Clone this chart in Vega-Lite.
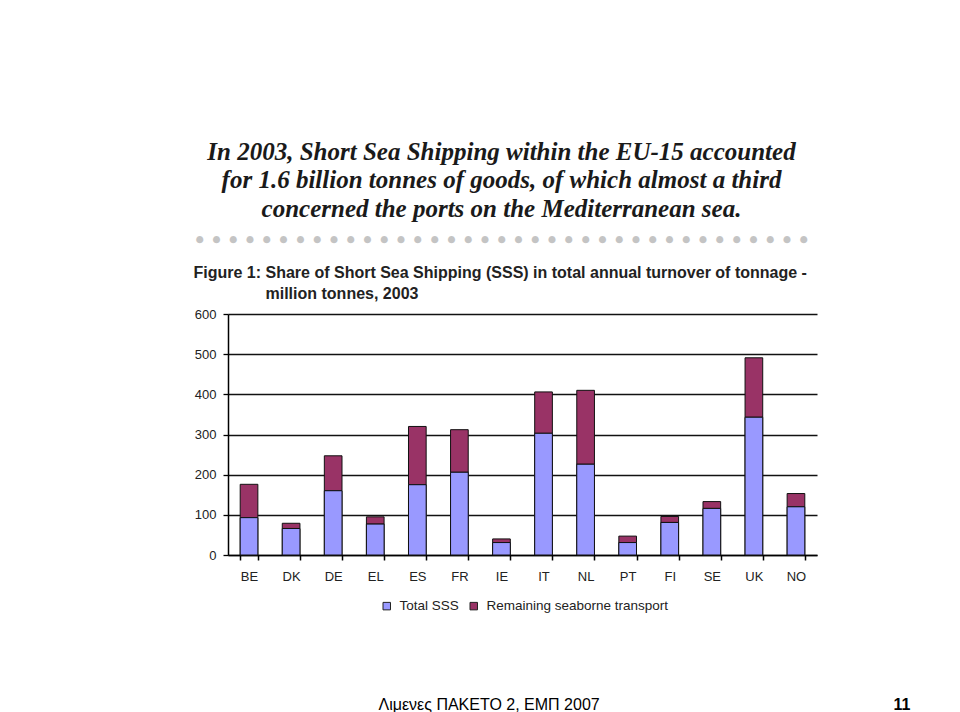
{
  "$schema": "https://vega.github.io/schema/vega-lite/v6.json",
  "width": 589,
  "height": 241,
  "autosize": {"type": "none"},
  "padding": {"left": 228, "top": 314, "right": 143, "bottom": 157},
  "background": "#ffffff",
  "title": {
    "text": ["In 2003, Short Sea Shipping within the EU-15 accounted", "for 1.6 billion tonnes of goods, of which almost a third", "concerned the ports on the Mediterranean sea."],
    "subtitle": "●\u00a0\u00a0\u00a0●\u00a0\u00a0\u00a0●\u00a0\u00a0\u00a0●\u00a0\u00a0\u00a0●\u00a0\u00a0\u00a0●\u00a0\u00a0\u00a0●\u00a0\u00a0\u00a0●\u00a0\u00a0\u00a0●\u00a0\u00a0\u00a0●\u00a0\u00a0\u00a0●\u00a0\u00a0\u00a0●\u00a0\u00a0\u00a0●\u00a0\u00a0\u00a0●\u00a0\u00a0\u00a0●\u00a0\u00a0\u00a0●\u00a0\u00a0\u00a0●\u00a0\u00a0\u00a0●\u00a0\u00a0\u00a0●\u00a0\u00a0\u00a0●\u00a0\u00a0\u00a0●\u00a0\u00a0\u00a0●\u00a0\u00a0\u00a0●\u00a0\u00a0\u00a0●\u00a0\u00a0\u00a0●\u00a0\u00a0\u00a0●\u00a0\u00a0\u00a0●\u00a0\u00a0\u00a0●\u00a0\u00a0\u00a0●\u00a0\u00a0\u00a0●\u00a0\u00a0\u00a0●\u00a0\u00a0\u00a0●\u00a0\u00a0\u00a0●\u00a0\u00a0\u00a0●\u00a0\u00a0\u00a0●\u00a0\u00a0\u00a0●\u00a0\u00a0\u00a0●",
    "anchor": "middle",
    "frame": "group",
    "dx": -21,
    "offset": 20,
    "font": "Liberation Serif",
    "fontStyle": "italic",
    "fontWeight": "bold",
    "fontSize": 25,
    "lineHeight": 28.5,
    "color": "#1a1a1a",
    "subtitleFont": "DejaVu Sans",
    "subtitleFontSize": 9.2,
    "subtitleColor": "#c4c4c4",
    "subtitlePadding": 13
  },
  "data": {
    "values": [
      {"country": "BE", "series": "Total SSS", "value": 93},
      {"country": "BE", "series": "Remaining seaborne transport", "value": 83},
      {"country": "DK", "series": "Total SSS", "value": 66},
      {"country": "DK", "series": "Remaining seaborne transport", "value": 13},
      {"country": "DE", "series": "Total SSS", "value": 160},
      {"country": "DE", "series": "Remaining seaborne transport", "value": 87},
      {"country": "EL", "series": "Total SSS", "value": 77},
      {"country": "EL", "series": "Remaining seaborne transport", "value": 18},
      {"country": "ES", "series": "Total SSS", "value": 175},
      {"country": "ES", "series": "Remaining seaborne transport", "value": 145},
      {"country": "FR", "series": "Total SSS", "value": 206},
      {"country": "FR", "series": "Remaining seaborne transport", "value": 106},
      {"country": "IE", "series": "Total SSS", "value": 31},
      {"country": "IE", "series": "Remaining seaborne transport", "value": 9},
      {"country": "IT", "series": "Total SSS", "value": 303},
      {"country": "IT", "series": "Remaining seaborne transport", "value": 103},
      {"country": "NL", "series": "Total SSS", "value": 226},
      {"country": "NL", "series": "Remaining seaborne transport", "value": 184},
      {"country": "PT", "series": "Total SSS", "value": 31},
      {"country": "PT", "series": "Remaining seaborne transport", "value": 16},
      {"country": "FI", "series": "Total SSS", "value": 81},
      {"country": "FI", "series": "Remaining seaborne transport", "value": 15},
      {"country": "SE", "series": "Total SSS", "value": 116},
      {"country": "SE", "series": "Remaining seaborne transport", "value": 17},
      {"country": "UK", "series": "Total SSS", "value": 343},
      {"country": "UK", "series": "Remaining seaborne transport", "value": 148},
      {"country": "NO", "series": "Total SSS", "value": 120},
      {"country": "NO", "series": "Remaining seaborne transport", "value": 33}
    ]
  },
  "encoding": {
    "x": {
      "field": "country",
      "type": "nominal",
      "sort": null,
      "scale": {"paddingInner": 0.58, "paddingOuter": 0.29},
      "axis": {
        "title": "Λιμενες ΠΑΚΕΤΟ 2, ΕΜΠ 2007",
        "titleX": 150,
        "titleY": 154,
        "titleAlign": "left",
        "titleBaseline": "alphabetic",
        "titleFont": "Liberation Sans",
        "titleFontSize": 16,
        "titleFontWeight": "normal",
        "titleColor": "#000000",
        "labelAngle": 0,
        "labelFont": "Liberation Sans",
        "labelFontSize": 13,
        "labelColor": "#222222",
        "labelPadding": 10,
        "tickBand": "extent",
        "tickColor": "#000000",
        "tickSize": 5,
        "tickWidth": 1.5,
        "domainColor": "#000000",
        "domainWidth": 1.5
      }
    },
    "color": {
      "field": "series",
      "type": "nominal",
      "scale": {"domain": ["Total SSS", "Remaining seaborne transport"], "range": ["#9999ff", "#993366"]},
      "legend": {
        "orient": "none",
        "legendX": 152,
        "legendY": 285,
        "direction": "horizontal",
        "title": null,
        "padding": 0,
        "symbolType": "square",
        "symbolSize": 56,
        "symbolStrokeColor": "#222222",
        "symbolStrokeWidth": 1,
        "symbolOpacity": 1,
        "labelFont": "Liberation Sans",
        "labelFontSize": 13.5,
        "labelColor": "#222222",
        "labelOffset": 6,
        "labelLimit": 400,
        "columnPadding": 8
      }
    }
  },
  "layer": [
    {
      "mark": {"type": "bar", "stroke": "#111111", "strokeWidth": 1, "opacity": 1},
      "encoding": {
        "y": {
          "field": "value",
          "type": "quantitative",
          "stack": "zero",
          "scale": {"domain": [0, 600], "nice": false},
          "axis": {
            "values": [0, 100, 200, 300, 400, 500, 600],
            "grid": true,
            "gridColor": "#111111",
            "gridWidth": 1.3,
            "gridOpacity": 1,
            "domainColor": "#000000",
            "domainWidth": 1.5,
            "tickColor": "#000000",
            "tickSize": 5,
            "tickWidth": 1.3,
            "labelFont": "Liberation Sans",
            "labelFontSize": 13,
            "labelColor": "#222222",
            "labelPadding": 7,
            "title": ["Figure 1: Share of Short Sea Shipping (SSS) in total annual turnover of tonnage -", "\u2800\u2800\u2800\u2800\u2800\u2800million tonnes, 2003"],
            "titleAngle": 0,
            "titleX": -35,
            "titleY": -50,
            "titleAlign": "left",
            "titleBaseline": "top",
            "titleFont": "Liberation Sans",
            "titleFontSize": 16,
            "titleFontWeight": "bold",
            "titleColor": "#222222",
            "titleLineHeight": 21,
            "titleLimit": 800
          }
        },
        "order": {"field": "series", "sort": "descending"}
      }
    },
    {
      "transform": [{"filter": "datum.series === 'Total SSS'"}],
      "mark": {"type": "bar", "stroke": "#111111", "strokeWidth": 1, "opacity": 1},
      "encoding": {
        "y": {
          "field": "value",
          "type": "quantitative",
          "stack": null,
          "scale": {"domain": [0, 600], "nice": false},
          "axis": {
            "orient": "right",
            "grid": false,
            "domain": false,
            "ticks": false,
            "labels": false,
            "title": "11",
            "titleAngle": 0,
            "titleX": 76,
            "titleY": 395,
            "titleAlign": "left",
            "titleBaseline": "alphabetic",
            "titleFont": "Liberation Sans",
            "titleFontSize": 16,
            "titleFontWeight": "bold",
            "titleColor": "#000000"
          }
        }
      }
    }
  ],
  "resolve": {"scale": {"y": "independent"}, "axis": {"y": "independent"}},
  "config": {"view": {"stroke": null}}
}
